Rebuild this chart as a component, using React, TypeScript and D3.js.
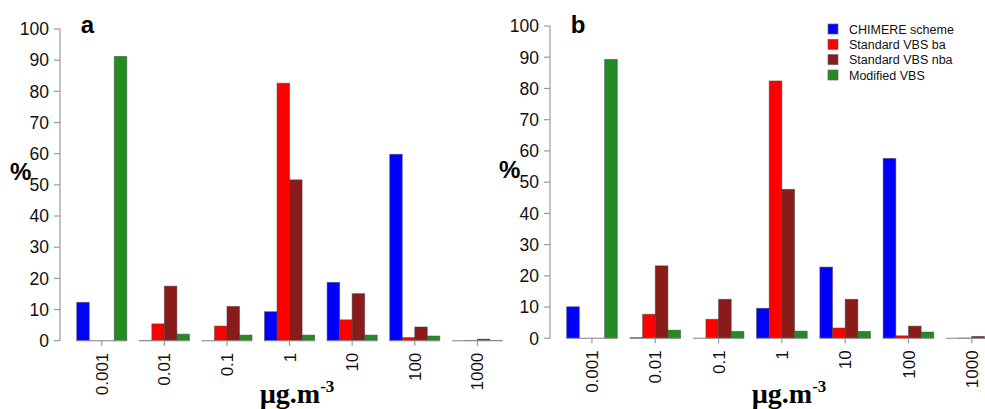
import React from "react";
import * as d3 from "d3";

const categories = ["0.001", "0.01", "0.1", "1", "10", "100", "1000"];
const seriesNames = ["CHIMERE scheme", "Standard VBS ba", "Standard VBS nba", "Modified VBS"];
const seriesColors = ["#0000FF", "#FF0000", "#8B1A1A", "#228B22"];
const yTicks = [0, 10, 20, 30, 40, 50, 60, 70, 80, 90, 100];

const chimereA = [12.3, 0.1, 0, 9.3, 18.7, 59.8, 0];
const baA = [0, 5.4, 4.7, 82.6, 6.7, 1.0, 0.1];
const nbaA = [0, 17.5, 11.0, 51.6, 15.1, 4.4, 0.5];
const modA = [91.2, 2.1, 1.8, 1.8, 1.8, 1.5, 0.1];

const chimereB = [10.1, 0.2, 0, 9.6, 22.8, 57.6, 0];
const baB = [0, 7.7, 6.1, 82.4, 3.3, 0.8, 0.1];
const nbaB = [0, 23.2, 12.5, 47.7, 12.5, 3.9, 0.6];
const modB = [89.3, 2.6, 2.2, 2.3, 2.2, 2.0, 0.1];

const SANS = "'Liberation Sans', Arial, sans-serif";
const SERIF = "'Liberation Serif', 'Times New Roman', serif";

type PanelProps = {
  label: string;
  values: number[][];
  axisX: number;
  y0: number;
  y100: number;
  unit0: number;
  unitW: number;
  pctX: number;
  pctY: number;
  unitLabelX: number;
};

function Panel(p: PanelProps) {
  const y = d3.scaleLinear().domain([0, 100]).range([p.y0, p.y100]);
  const x = d3
    .scaleBand<string>()
    .domain(categories)
    .range([p.unit0, p.unit0 + 36 * p.unitW])
    .paddingInner(0.2)
    .paddingOuter(0.2);
  const xi = d3
    .scaleBand<string>()
    .domain(seriesNames)
    .range([0, x.bandwidth()]);

  return (
    <g>
      <line x1={p.axisX} x2={p.axisX} y1={y(0)} y2={y(100)} stroke="#9a9a9a" strokeWidth={1.2} />
      {yTicks.map((t) => (
        <g key={t}>
          <line x1={p.axisX - 6} x2={p.axisX} y1={y(t)} y2={y(t)} stroke="#9a9a9a" strokeWidth={1.2} />
          <text
            x={p.axisX - 11}
            y={y(t)}
            dy="0.36em"
            textAnchor="end"
            fontFamily={SANS}
            fontSize={17.5}
            fill="#111"
          >
            {t}
          </text>
        </g>
      ))}
      {categories.map((c, ci) => (
        <g key={c}>
          {seriesNames.map((s, si) => {
            const v = p.values[si][ci];
            const h = y(0) - y(v);
            return (
              <rect
                key={s}
                x={(x(c) as number) + (xi(s) as number)}
                y={y(v)}
                width={xi.bandwidth()}
                height={Math.max(h, 0.01)}
                fill={seriesColors[si]}
                stroke="#444"
                strokeOpacity={0.55}
                strokeWidth={0.9}
              />
            );
          })}
          <line
            x1={x(c) as number}
            x2={(x(c) as number) + x.bandwidth()}
            y1={y(0)}
            y2={y(0)}
            stroke="#9a9a9a"
            strokeOpacity={0.8}
            strokeWidth={1.1}
          />
          <line
            x1={(x(c) as number) + x.bandwidth() / 2}
            x2={(x(c) as number) + x.bandwidth() / 2}
            y1={y(0)}
            y2={y(0) + 5}
            stroke="#9a9a9a"
            strokeWidth={1.2}
          />
          <text
            transform={`translate(${(x(c) as number) + x.bandwidth() / 2},${y(0) + 12}) rotate(-90)`}
            dy="0.36em"
            textAnchor="end"
            fontFamily={SANS}
            fontSize={17}
            fill="#111"
          >
            {c}
          </text>
        </g>
      ))}
      <text x={(x(categories[0]) as number) + 4} y={33} fontFamily={SANS} fontWeight="bold" fontSize={24} fill="#000">
        {p.label}
      </text>
      <text x={p.pctX} y={p.pctY} fontFamily={SANS} fontWeight="bold" fontSize={24} fill="#000">
        %
      </text>
      <text x={p.unitLabelX} y={403} textAnchor="middle" fontFamily={SERIF} fontWeight="bold" fontSize={28} fill="#000">
        µg.m<tspan fontSize={17} dy={-11}>-3</tspan>
      </text>
    </g>
  );
}

function Legend() {
  const ly = d3.scaleLinear().domain([0, 3]).range([29, 75]);
  return (
    <g>
      {seriesNames.map((s, i) => (
        <g key={s}>
          <rect x={828} y={ly(i) - 5} width={10} height={10} fill={seriesColors[i]} stroke="#666" strokeWidth={0.7} />
          <text x={849} y={ly(i)} dy="0.36em" fontFamily={SANS} fontSize={12.5} fill="#111">
            {s}
          </text>
        </g>
      ))}
    </g>
  );
}

export default function App() {
  return (
    <svg
      width={985}
      height={409}
      style={{ position: "absolute", left: 0, top: 0, background: "#fff" }}
    >
      <rect x={0} y={0} width={985} height={409} fill="#fff" />
      <Panel
        label="a"
        values={[chimereA, baA, nbaA, modA]}
        axisX={60}
        y0={340.7}
        y100={29}
        unit0={64.2}
        unitW={12.52}
        pctX={10}
        pctY={180}
        unitLabelX={297}
      />
      <Panel
        label="b"
        values={[chimereB, baB, nbaB, modB]}
        axisX={550}
        y0={338.3}
        y100={26}
        unit0={554}
        unitW={12.66}
        pctX={499}
        pctY={178}
        unitLabelX={789}
      />
      <Legend />
    </svg>
  );
}
